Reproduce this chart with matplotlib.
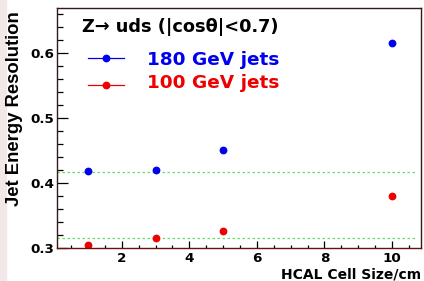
import matplotlib
matplotlib.use("Agg")
import matplotlib.pyplot as plt
from matplotlib.ticker import MultipleLocator
from matplotlib.patches import Rectangle

plt.rcParams['font.family'] = ['DejaVu Sans']

cell_size = [1, 3, 5, 10]
res_180 = [0.419, 0.420, 0.450, 0.615]
res_100 = [0.305, 0.315, 0.326, 0.380]
ref_lines = [0.417, 0.315]

W, H = 424, 281
fig = plt.figure(figsize=(W/100, H/100), dpi=100)
fig.patches.append(Rectangle((0, 0), 6/W, 1, transform=fig.transFigure,
                             color='#f2e8e8', zorder=0))
ax = fig.add_axes([57/W, 1-248/H, (421-57)/W, (248-8)/H])

for y in ref_lines:
    ax.axhline(y, color='#66dd66', lw=0.9, ls=(0, (2, 2)), xmax=0.99)

ax.plot(cell_size, res_180, 'o', color='#0000ee', ms=4.6, ls='none')
ax.plot(cell_size, res_100, 'o', color='#ee0000', ms=4.6, ls='none')

ax.set_xlim(0.08, 10.86)
ax.set_ylim(0.3, 0.669)
ax.xaxis.set_major_locator(MultipleLocator(2))
ax.xaxis.set_minor_locator(MultipleLocator(0.5))
ax.yaxis.set_major_locator(MultipleLocator(0.1))
ax.yaxis.set_minor_locator(MultipleLocator(0.02))
ax.tick_params(which='both', direction='in', top=False, right=False,
               labelsize=9.7, color='black', width=0.9)
ax.tick_params(axis='x', which='major', length=5, pad=3)
ax.tick_params(axis='x', which='minor', length=2.3)
ax.tick_params(axis='y', which='major', length=8, pad=2)
ax.tick_params(axis='y', which='minor', length=4.3)
ax.set_yticks([0.3, 0.4, 0.5, 0.6])
ax.set_yticklabels(['0.3', '0.4', '0.5', '0.6'], fontweight='bold')
ax.set_xticks([2, 4, 6, 8, 10])
ax.set_xticklabels(['2', '4', '6', '8', '10'], fontweight='bold')

for s in ax.spines.values():
    s.set_color('#3a1818')
    s.set_linewidth(1.0)
ax.spines['bottom'].set_color('#6a1010')

fig.text(15/W, 1-108.5/H, 'Jet Energy Resolution', rotation=90,
         ha='center', va='center', fontsize=13.3, fontweight='bold',
         family='Liberation Sans')
fig.text(421/W, 1-278/H, 'HCAL Cell Size/cm', ha='right', va='baseline',
         fontsize=10, fontweight='bold')

# legend
tr = ax.transAxes
def fx(px):
    return (px - 57) / (421 - 57)
def fy(py):
    return (248 - py) / (248 - 8)
ax.text(fx(82), fy(31.5), 'Z→ uds (|cosθ|<0.7)', transform=tr,
        fontsize=12.8, fontweight='bold', va='baseline', ha='left')
entries = [(58, 64.7, '#0000ee', '180 GeV jets'), (85, 88.5, '#ee0000', '100 GeV jets')]
for ly, ty, col, lab in entries:
    ax.plot([fx(88), fx(124)], [fy(ly), fy(ly)], color=col, lw=0.9, transform=tr, clip_on=False)
    ax.plot([fx(106)], [fy(ly)], 'o', color=col, ms=4.6, transform=tr, clip_on=False)
    ax.text(fx(147), fy(ty), lab, color=col, transform=tr, fontsize=13.3,
            fontweight='bold', va='baseline', ha='left')

fig.savefig('out.png', dpi=100)
